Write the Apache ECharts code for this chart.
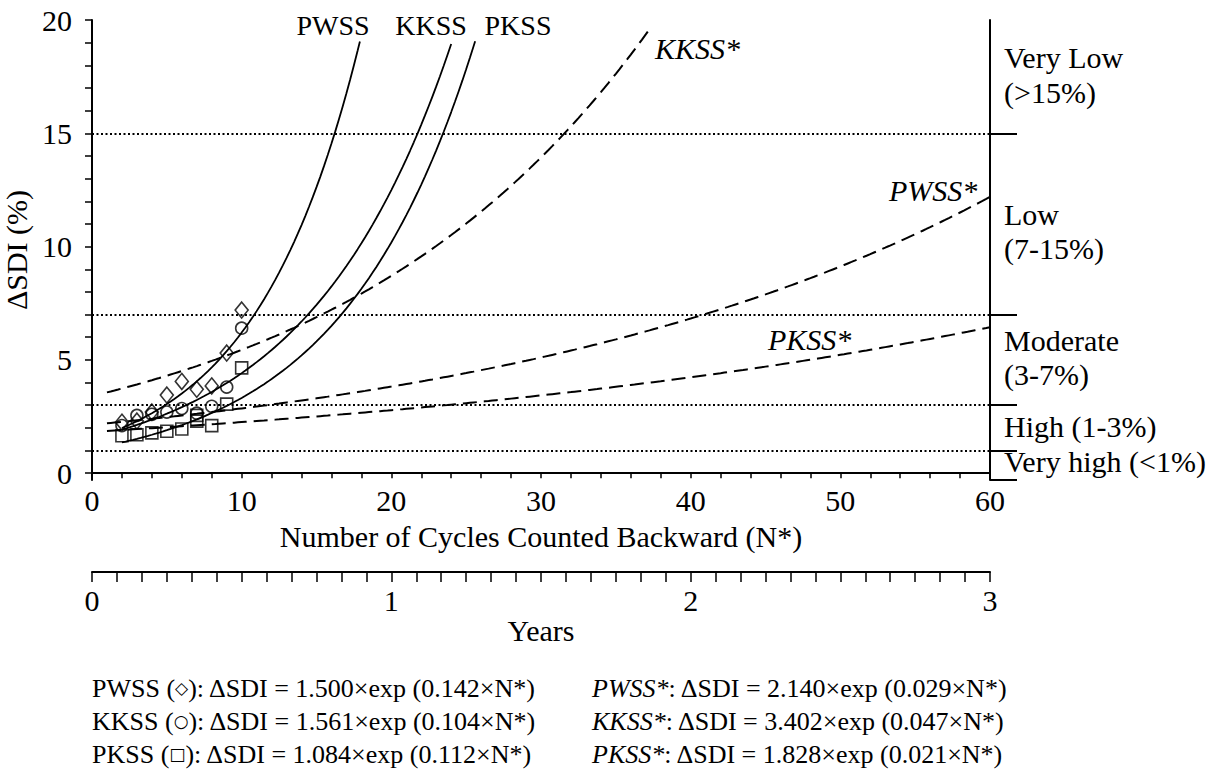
<!DOCTYPE html>
<html>
<head>
<meta charset="utf-8">
<script src="https://cdn.jsdelivr.net/npm/echarts@6/dist/echarts.min.js"></script>
<style>
  html, body { margin: 0; padding: 0; background: #fff; }
  #chart { width: 1216px; height: 780px; }
</style>
</head>
<body>
<div id="chart"></div>
<script>
// Measured ΔSDI (%) against number of cycles counted backward (N*)
const cyclesN    = [2, 3, 4, 5, 6, 7, 8, 9, 10];
const pwssValues = [2.25, 2.3, 2.7, 3.45, 4.05, 3.7, 3.85, 5.3, 7.2];
const kkssValues = [2.1, 2.55, 2.6, 2.7, 2.85, 2.65, 2.95, 3.8, 6.4];
const pkssCycles = [2, 3, 4, 5, 6, 7, 7, 8, 9, 10];
const pkssValues = [1.65, 1.7, 1.78, 1.85, 1.95, 2.3, 2.55, 2.1, 3.05, 4.65];

// Exponential fits ΔSDI = a·exp(b·N*), short-term (solid) and long-term (dashed)
const fitNames  = ['PWSS', 'KKSS', 'PKSS'];
const fitMarks  = ['◇', '○', '□'];
const fitA      = [1.500, 1.561, 1.084];
const fitB      = [0.142, 0.104, 0.112];
const fitFrom   = [2, 2, 2];
const fitTo     = [17.9, 24.0, 25.6];

const longNames = ['PWSS*', 'KKSS*', 'PKSS*'];
const longA     = [2.140, 3.402, 1.828];
const longB     = [0.029, 0.047, 0.021];
const longFrom  = [1, 1, 1];
const longTo    = [60, 37.2, 60];

// Stability classes on the right-hand scale
const classBounds = [1, 3, 7, 15];
const classLabels = [
  ['Very Low', '(>15%)'],
  ['Low', '(7-15%)'],
  ['Moderate', '(3-7%)'],
  ['High (1-3%)'],
  ['Very high (<1%)']
];

// Axis ticks
const yMin = -0.3, yMax = 20;
const yTickValues  = Array.from({ length: 21 }, (_, i) => i);
const yLabelValues = [0, 5, 10, 15, 20];

const FONT = '"Liberation Serif", "Times New Roman", serif';
const BLACK = '#000';
const PLOT_H = 460;
// lift the N* axis from the bottom edge of the plot up to ΔSDI = 0
const xAxisLift = -(0 - yMin) / (yMax - yMin) * PLOT_H;

function fitCurve(a, b, from, to) {
  const pts = [];
  const step = 0.25;
  for (let n = from; n < to; n += step) pts.push([n, a * Math.exp(b * n)]);
  pts.push([to, a * Math.exp(b * to)]);
  return pts;
}

const chart = echarts.init(document.getElementById('chart'), null, { renderer: 'svg' });

const series = [];
const markStyle = { color: 'rgba(0,0,0,0)', borderColor: BLACK, borderWidth: 1.6 };
series.push({
  type: 'scatter', name: 'PWSS', symbol: 'diamond', symbolSize: [13, 16],
  data: cyclesN.map((n, i) => [n, pwssValues[i]]), itemStyle: markStyle, z: 5
});
series.push({
  type: 'scatter', name: 'KKSS', symbol: 'circle', symbolSize: 12,
  data: cyclesN.map((n, i) => [n, kkssValues[i]]), itemStyle: markStyle, z: 5
});
series.push({
  type: 'scatter', name: 'PKSS', symbol: 'rect', symbolSize: 12,
  data: pkssCycles.map((n, i) => [n, pkssValues[i]]), itemStyle: markStyle, z: 5
});
fitNames.forEach((nm, i) => {
  series.push({
    type: 'line', name: nm + ' fit', showSymbol: false,
    data: fitCurve(fitA[i], fitB[i], fitFrom[i], fitTo[i]),
    lineStyle: { color: BLACK, width: 1.8 }, z: 3
  });
});
longNames.forEach((nm, i) => {
  const s = {
    type: 'line', name: nm, showSymbol: false,
    data: fitCurve(longA[i], longB[i], longFrom[i], longTo[i]),
    lineStyle: { color: BLACK, width: 2, type: [14, 7] }, z: 3
  };
  if (i === 0) {
    s.markLine = {
      silent: true, symbol: ['none', 'none'], label: { show: false },
      lineStyle: { color: BLACK, width: 2, type: [2, 2.5] },
      data: classBounds.map(v => ({ yAxis: v }))
    };
  }
  series.push(s);
});

// Text annotations
const graphics = [];
const txt = (x, y, text, opts = {}) => graphics.push({
  type: 'text', x, y,
  style: {
    text, fill: BLACK, font: (opts.italic ? 'italic ' : '') + (opts.size || 28) + 'px ' + FONT,
    textAlign: opts.align || 'left', textVerticalAlign: 'middle'
  }
});

txt(333, 25, fitNames[0], { align: 'center' });
txt(431, 25, fitNames[1], { align: 'center' });
txt(518, 25, fitNames[2], { align: 'center' });
txt(655, 48, longNames[1], { italic: true, size: 30 });
txt(889, 190, longNames[0], { italic: true, size: 30 });
txt(768, 339, longNames[2], { italic: true, size: 30 });

const classY = [[57, 92], [214, 248], [340, 374], [426], [461]];
classLabels.forEach((lines, i) => {
  lines.forEach((t, j) => txt(1004, classY[i][j], t, { size: 30 }));
});

// Fitted equations
const eqRows = [688, 721, 754];
const eqRich = {
  it: { fontFamily: FONT, fontSize: 26, fontStyle: 'italic', fill: BLACK },
  n:  { fontFamily: FONT, fontSize: 26, fill: BLACK },
  sym: { fontFamily: '"DejaVu Sans", sans-serif', fontSize: 17, fill: BLACK }
};
fitNames.forEach((nm, i) => {
  graphics.push({
    type: 'text', x: 92, y: eqRows[i],
    style: {
      text: '{n|' + nm + ' (}{sym|' + fitMarks[i] + '}{n|): ΔSDI = ' + fitA[i].toFixed(3) +
            '×exp (' + fitB[i].toFixed(3) + '×N*)}',
      rich: eqRich, textVerticalAlign: 'middle', fill: BLACK
    }
  });
  graphics.push({
    type: 'text', x: 592, y: eqRows[i],
    style: {
      text: '{it|' + longNames[i] + '}{n|: ΔSDI = ' + longA[i].toFixed(3) +
            '×exp (' + longB[i].toFixed(3) + '×N*)}',
      rich: eqRich, textVerticalAlign: 'middle', fill: BLACK
    }
  });
});

const axisText = { fontFamily: FONT, fontSize: 30, color: BLACK };
const lineStyle = { color: BLACK, width: 2 };
const tickStyle = { color: BLACK, width: 1.5 };

chart.setOption({
  backgroundColor: '#fff',
  animation: false,
  grid: [
    { left: 92, top: 20, width: 898, height: PLOT_H, outerBoundsMode: 'none', containLabel: false },
    { left: 92, top: 571, width: 898, height: 1, outerBoundsMode: 'none', containLabel: false }
  ],
  xAxis: [
    {
      gridIndex: 0, type: 'value', min: 0, max: 60, interval: 10, offset: xAxisLift,
      axisLine: { onZero: false, lineStyle },
      axisTick: { length: 5, lineStyle: tickStyle },
      minorTick: { show: true, splitNumber: 5, length: 5, lineStyle: tickStyle },
      splitLine: { show: false },
      axisLabel: Object.assign({ margin: 12 }, axisText),
      name: 'Number of Cycles Counted Backward (N*)', nameLocation: 'middle', nameGap: 48,
      nameTextStyle: axisText
    },
    {
      gridIndex: 1, type: 'value', min: 0, max: 3, interval: 1,
      axisLine: { lineStyle },
      axisTick: { length: 10, lineStyle: tickStyle },
      minorTick: { show: true, splitNumber: 12, length: 10, lineStyle: tickStyle },
      splitLine: { show: false },
      axisLabel: Object.assign({ margin: 13 }, axisText),
      name: 'Years', nameLocation: 'middle', nameGap: 42,
      nameTextStyle: axisText
    }
  ],
  yAxis: [
    {
      gridIndex: 0, type: 'value', min: yMin, max: yMax,
      axisLine: { show: true, onZero: false, lineStyle },
      axisTick: { show: true, customValues: yTickValues, length: 7, lineStyle: tickStyle },
      axisLabel: Object.assign({ customValues: yLabelValues, margin: 20 }, axisText),
      splitLine: { show: false },
      name: 'ΔSDI (%)', nameLocation: 'middle', nameGap: 48, nameRotate: 90,
      nameTextStyle: axisText
    },
    {
      gridIndex: 0, type: 'value', position: 'right', min: yMin, max: yMax,
      axisLine: { show: true, onZero: false, lineStyle },
      axisTick: { show: true, customValues: [yMin].concat(classBounds), length: 27, lineStyle },
      axisLabel: { show: false },
      splitLine: { show: false }
    },
    { gridIndex: 1, type: 'value', min: 0, max: 1, show: false }
  ],
  series,
  graphic: graphics
});
</script>
</body>
</html>
